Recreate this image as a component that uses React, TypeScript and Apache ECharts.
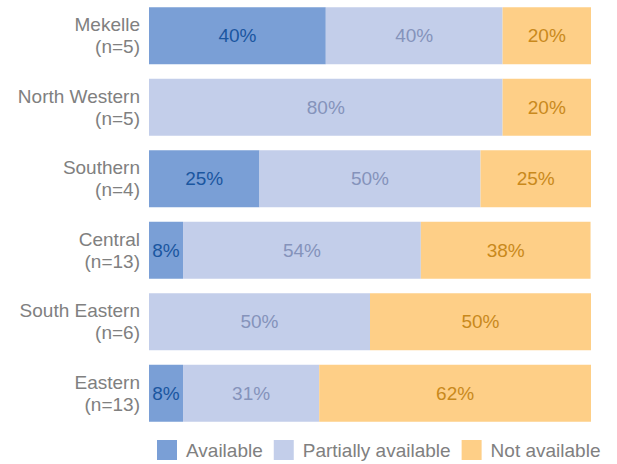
import React, { useEffect, useRef } from "react";
import * as echarts from "echarts";

const categories = [
  "Mekelle\n(n=5)",
  "North Western\n(n=5)",
  "Southern\n(n=4)",
  "Central\n(n=13)",
  "South Eastern\n(n=6)",
  "Eastern\n(n=13)",
];
const available = [40, 0, 25, 7.7, 0, 7.7];
const partially = [40, 80, 50, 53.8, 50, 30.8];
const notAvailable = [20, 20, 25, 38.4, 50, 61.5];

const seriesNames = ["Available", "Partially available", "Not available"];
const colors = ["#7A9FD6", "#C3CEEA", "#FECF87"];
const labelColors = ["#1A56A0", "#8593BB", "#C9891C"];

const FONT = "'Liberation Sans', Arial, sans-serif";

export default function App() {
  const ref = useRef<HTMLDivElement>(null);
  useEffect(() => {
    if (!ref.current) return;
    const chart = echarts.init(ref.current, null, { renderer: "svg" });
    const datasets = [available, partially, notAvailable];
    chart.setOption({
      animation: false,
      textStyle: { fontFamily: FONT },
      grid: { left: 149, right: 26, top: -3, height: 432, containLabel: false },
      xAxis: {
        type: "value",
        min: 0,
        max: 100,
        show: false,
      },
      yAxis: {
        type: "category",
        inverse: true,
        data: categories,
        axisLine: { show: false },
        axisTick: { show: false },
        splitLine: { show: false },
        axisLabel: {
          color: "#808080",
          fontFamily: FONT,
          fontSize: 19,
          lineHeight: 22,
          align: "right",
          margin: 9,
        },
      },
      legend: {
        top: 435,
        left: 152,
        itemWidth: 20,
        itemHeight: 20,
        itemGap: 11,
        icon: "rect",
        textStyle: { color: "#808080", fontFamily: FONT, fontSize: 19, padding: [0, 0, 0, 4] },
        data: seriesNames,
      },
      series: datasets.map((d, i) => ({
        name: seriesNames[i],
        type: "bar",
        stack: "total",
        barWidth: 57,
        data: d,
        itemStyle: { color: colors[i] },
        label: {
          show: true,
          position: "inside",
          color: labelColors[i],
          fontFamily: FONT,
          fontSize: 19,
          formatter: (p: any) => (p.value > 0 ? Math.round(p.value) + "%" : ""),
        },
      })),
    });
    return () => chart.dispose();
  }, []);
  return (
    <div
      ref={ref}
      style={{ position: "absolute", left: 0, top: 0, width: 617, height: 464 }}
    />
  );
}
